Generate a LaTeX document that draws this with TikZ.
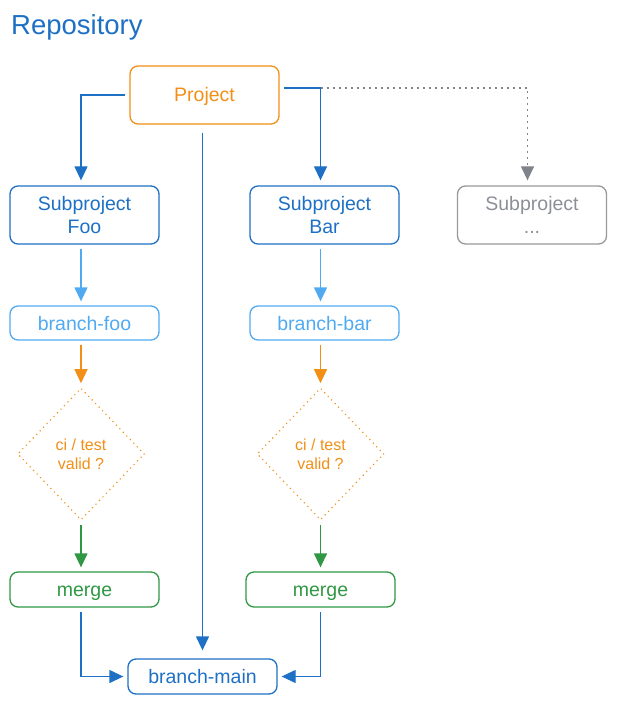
\documentclass[tikz,border=0pt]{standalone}
\usepackage{fontspec}
\setmainfont{Liberation Sans}
\usetikzlibrary{arrows.meta,shapes.geometric}
\definecolor{dblue}{RGB}{30,112,196}
\definecolor{lblue}{RGB}{80,170,242}
\definecolor{orng}{RGB}{242,143,22}
\definecolor{grn}{RGB}{48,152,68}
\definecolor{gbox}{RGB}{150,152,155}
\definecolor{gtxt}{RGB}{140,144,150}
\definecolor{garr}{RGB}{128,132,138}
\begin{document}
\begin{tikzpicture}[x=1pt,y=-1pt,
  box/.style={draw, rounded corners=8pt, line width=1.3pt, minimum width=149pt,
    inner sep=0pt, align=center, font=\fontsize{19.5}{23}\selectfont},
  oneline/.style={text height=14pt, text depth=0pt},
  decide/.style={diamond, draw=orng, text=orng, line width=1.6pt, line cap=round,
    dash pattern=on 0pt off 5pt, minimum width=127pt, minimum height=132pt,
    inner sep=0pt, align=center, font=\fontsize{16}{19}\selectfont},
  tip/.style={-{Triangle[length=14pt,width=13pt]}},
  arr/.style={line width=1.3pt, tip, shorten >=4pt, shorten <=4pt}
]
\useasboundingbox (0,0) rectangle (616,703);

\node[anchor=base west, text=dblue, font=\fontsize{27.5}{30}\selectfont, inner sep=0pt] (title) at (11,35) {Repository};

\node[box, oneline, draw=orng, text=orng, minimum height=58pt] (project) at (204.5,95) {Project};
\node[box, draw=dblue, text=dblue, minimum height=58pt] (foo) at (84.5,215) {Subproject\\Foo};
\node[box, draw=dblue, text=dblue, minimum height=58pt] (bar) at (324.5,215) {Subproject\\Bar};
\node[box, draw=gbox, text=gtxt, minimum height=58pt] (other) at (532,215) {Subproject\\...};

\node[box, oneline, draw=lblue, text=lblue, minimum height=34pt] (bfoo) at (84.5,323) {branch-foo};
\node[box, oneline, draw=lblue, text=lblue, minimum height=34pt] (bbar) at (324.5,323) {branch-bar};

\node[decide] (dfoo) at (81,454) {ci / test\\valid ?};
\node[decide] (dbar) at (320.5,454) {ci / test\\valid ?};

\node[box, oneline, draw=grn, text=grn, minimum height=35pt] (mfoo) at (84.5,589.5) {merge};
\node[box, oneline, draw=grn, text=grn, minimum height=35pt] (mbar) at (320.5,589.5) {merge};

\node[box, oneline, draw=dblue, text=dblue, minimum height=35pt] (main) at (202.5,676.5) {branch-main};

\coordinate (cl) at (81,0);
\coordinate (cr) at (320.5,0);
\coordinate (cx) at (527.5,0);
\coordinate (pr) at ([yshift=7pt]project.east);

% Project to subprojects
\draw[arr, dblue, shorten >=5pt] (project.west) -| (cl |- foo.north);
\draw[arr, dblue, shorten >=5pt] (pr) -| (cr |- bar.north);
\draw[line width=1.3pt, garr, dash pattern=on 2pt off 4pt, tip, shorten >=5pt]
  (cr |- pr) -| (cx |- other.north);
\draw[arr, dblue, shorten <=8pt, shorten >=8pt] (main.north |- project.south) -- (main.north);

% left column
\draw[arr, lblue] (cl |- foo.south) -- (cl |- bfoo.north);
\draw[arr, orng] (cl |- bfoo.south) -- (dfoo.north);
\draw[arr, grn] (dfoo.south) -- (cl |- mfoo.north);
\draw[arr, dblue] (cl |- mfoo.south) |- (main.west);

% right column
\draw[arr, lblue] (cr |- bar.south) -- (cr |- bbar.north);
\draw[arr, orng] (cr |- bbar.south) -- (dbar.north);
\draw[arr, grn] (dbar.south) -- (cr |- mbar.north);
\draw[arr, dblue] (cr |- mbar.south) |- (main.east);
\end{tikzpicture}
\end{document}
